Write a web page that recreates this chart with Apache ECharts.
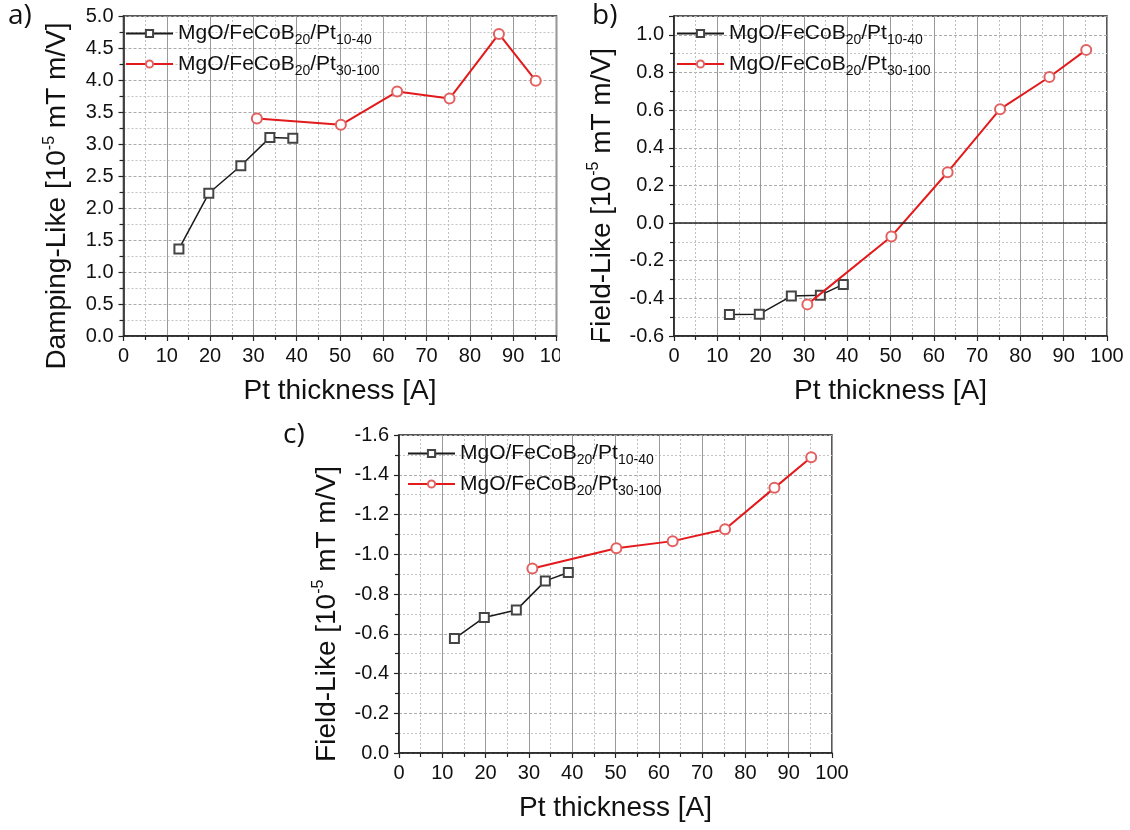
<!DOCTYPE html>
<html>
<head>
<meta charset="utf-8">
<script src="https://cdn.jsdelivr.net/npm/echarts@6/dist/echarts.min.js"></script>
<style>
html,body{margin:0;padding:0;background:#fff;}
#chart{width:1130px;height:830px;}
</style>
</head>
<body>
<div id="chart"></div>
<script>
// ---- data ----
const seriesNames = ['MgO/FeCoB20/Pt10-40', 'MgO/FeCoB20/Pt30-100'];
const thicknessBlack = [12.8, 19.7, 27.1, 33.8, 39.1];
const thicknessRed = [30.8, 50.2, 63.2, 75.3, 86.7, 95.2];
const dampingBlack = [1.36, 2.23, 2.66, 3.10, 3.09];
const dampingRed = [3.40, 3.30, 3.82, 3.71, 4.72, 3.99];
const fieldBBlack = [-0.486, -0.484, -0.388, -0.383, -0.326];
const fieldBRed = [-0.432, -0.071, 0.270, 0.605, 0.776, 0.920];
const fieldCBlack = [-0.576, -0.682, -0.719, -0.866, -0.908];
const fieldCRed = [-0.928, -1.030, -1.066, -1.126, -1.334, -1.488];
const xTicks = [0, 10, 20, 30, 40, 50, 60, 70, 80, 90, 100];

const FONT = 'Liberation Sans';
const pair = (xs, ys) => xs.map((x, i) => [x, ys[i]]);

function legendFormatter(name) {
  const sub = name.endsWith('10-40') ? '10-40' : '30-100';
  return '{n|MgO/FeCoB}{s|20}{n|/Pt}{s|' + sub + '}';
}
const legendRich = {
  n: { fontSize: 21, fontFamily: FONT, color: '#111', lineHeight: 28 },
  s: { fontSize: 14, fontFamily: FONT, color: '#111', lineHeight: 10, verticalAlign: 'bottom' }
};
function makeLegend(left, top) {
  return {
    left: left, top: top, orient: 'vertical', padding: 0, itemGap: 6,
    itemWidth: 47, itemHeight: 9,
    data: seriesNames, formatter: legendFormatter,
    textStyle: { rich: legendRich },
    selectedMode: false
  };
}
const nameRich = {
  m: { fontSize: 28, fontFamily: FONT, color: '#111', lineHeight: 32 },
  sup: { fontSize: 16, fontFamily: FONT, color: '#111', lineHeight: 13, verticalAlign: 'top' }
};
function xAxisFor(gridIndex) {
  return {
    gridIndex: gridIndex, type: 'value', min: xTicks[0], max: xTicks[xTicks.length - 1], interval: 10,
    name: 'Pt thickness [A]', nameLocation: 'middle', nameGap: 41,
    nameTextStyle: { fontSize: 28, fontFamily: FONT, color: '#111' },
    axisLine: { show: true, onZero: false, lineStyle: { color: '#222', width: 1.5 } },
    axisTick: { show: true, inside: false, length: 5, lineStyle: { color: '#222', width: 1.2 } },
    minorTick: { show: true, splitNumber: 2, length: 4, lineStyle: { color: '#222', width: 1.2 } },
    axisLabel: { fontSize: 20, fontFamily: FONT, color: '#111', margin: 10 },
    splitLine: { show: true, lineStyle: { color: '#999', width: 1 } },
    minorSplitLine: { show: true, lineStyle: { color: '#c0c0c0', width: 1, type: [2, 2] } }
  };
}
function yAxisFor(gridIndex, min, max, interval, name, opts) {
  return Object.assign({
    gridIndex: gridIndex, type: 'value', min: min, max: max, interval: interval,
    name: name, nameLocation: 'middle', nameGap: 50,
    nameTextStyle: { rich: nameRich, padding: [0, 40, 0, 0] },
    axisLine: { show: true, onZero: false, lineStyle: { color: '#222', width: 1.5 } },
    axisTick: { show: true, inside: false, length: 5, lineStyle: { color: '#222', width: 1.2 } },
    minorTick: { show: true, splitNumber: 2, length: 4, lineStyle: { color: '#222', width: 1.2 } },
    axisLabel: {
      fontSize: 20, fontFamily: FONT, color: '#111', margin: 10,
      formatter: v => (Math.abs(Math.round(v / interval) - v / interval) > 1e-6) ? '' : (Math.abs(v) < 1e-9 ? '0.0' : v.toFixed(1))
    },
    splitLine: { show: true, lineStyle: { color: '#aaa', width: 1, type: [3, 2] } },
    minorSplitLine: { show: true, lineStyle: { color: '#c4c4c4', width: 1, type: [2, 2] } }
  }, opts || {});
}
function blackSeries(idx, ys) {
  return {
    type: 'line', name: seriesNames[0], xAxisIndex: idx, yAxisIndex: idx,
    data: pair(thicknessBlack, ys), symbol: 'emptyRect', symbolSize: 9,
    lineStyle: { color: '#1a1a1a', width: 1.5 },
    itemStyle: { color: '#444', borderWidth: 1.2 }, z: 3
  };
}
function redSeries(idx, ys, extra) {
  return Object.assign({
    type: 'line', name: seriesNames[1], xAxisIndex: idx, yAxisIndex: idx,
    data: pair(thicknessRed, ys), symbol: 'emptyCircle', symbolSize: 10,
    lineStyle: { color: '#e31a1c', width: 2 },
    itemStyle: { color: '#e36060', borderWidth: 1.2 }, z: 4
  }, extra || {});
}
const gridBase = { show: true, borderColor: '#222', borderWidth: 1.5, backgroundColor: 'transparent' };

const option = {
  animation: false,
  backgroundColor: '#fff',
  grid: [
    Object.assign({ left: 123.5, top: 16, width: 433, height: 320 }, gridBase),
    Object.assign({ left: 674, top: 16, width: 433, height: 320 }, gridBase),
    Object.assign({ left: 399, top: 435, width: 433, height: 318 }, gridBase)
  ],
  xAxis: [xAxisFor(0), xAxisFor(1), xAxisFor(2)],
  yAxis: [
    yAxisFor(0, 0, 5, 0.5, '{m|Damping-Like [10}{sup|-5}{m| mT m/V]}'),
    yAxisFor(1, -0.6, 1.1, 0.2, '{m|Field-Like [10}{sup|-5}{m| mT m/V]}', { nameGap: 56 }),
    yAxisFor(2, -1.6, 0, 0.2, '{m|Field-Like [10}{sup|-5}{m| mT m/V]}', { inverse: true, nameGap: 56 })
  ],
  legend: [makeLegend(125, 23), makeLegend(676, 23), makeLegend(407, 443)],
  series: [
    blackSeries(0, dampingBlack), redSeries(0, dampingRed),
    blackSeries(1, fieldBBlack),
    redSeries(1, fieldBRed, {
      markLine: {
        silent: true, symbol: 'none', label: { show: false },
        lineStyle: { color: '#222', width: 1.5, type: 'solid' },
        data: [{ yAxis: 0 }]
      }
    }),
    blackSeries(2, fieldCBlack), redSeries(2, fieldCRed)
  ],
  graphic: [
    { type: 'rect', left: 560, top: 340, shape: { width: 40, height: 34 }, style: { fill: '#fff' }, z: 100 },
    { type: 'text', left: 8, top: 2, style: { text: 'a)', fontSize: 28, fontFamily: 'Open Sans', fill: '#111' } },
    { type: 'text', left: 592, top: 2, style: { text: 'b)', fontSize: 28, fontFamily: 'Open Sans', fill: '#111' } },
    { type: 'text', left: 283, top: 421, style: { text: 'c)', fontSize: 28, fontFamily: 'Open Sans', fill: '#111' } }
  ]
};
const chart = echarts.init(document.getElementById('chart'), null, { renderer: 'canvas' });
chart.setOption(option);
</script>
</body>
</html>
